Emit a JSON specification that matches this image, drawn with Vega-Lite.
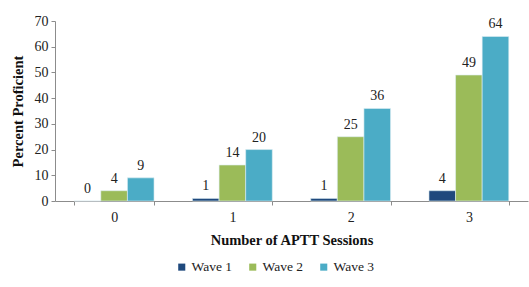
{
  "$schema": "https://vega.github.io/schema/vega-lite/v6.json",
  "width": 473,
  "height": 180,
  "autosize": {"type": "none"},
  "padding": {"left": 55, "top": 21, "right": 1, "bottom": 86},
  "background": "white",
  "config": {
    "view": {"stroke": null},
    "font": "Liberation Serif",
    "axis": {"labelFont": "Liberation Serif", "titleFont": "Liberation Serif", "labelColor": "#222", "titleColor": "#111", "domainColor": "#8c8c8c", "tickColor": "#8c8c8c", "grid": false, "labelFontSize": 14, "titleFontSize": 14.5, "titleFontWeight": "bold"},
    "legend": {"labelFont": "Liberation Serif", "labelFontSize": 13.5, "labelColor": "#222"}
  },
  "data": {
    "values": [
      {"sessions": "0", "wave": "Wave 1", "pct": 0},
      {"sessions": "0", "wave": "Wave 2", "pct": 4},
      {"sessions": "0", "wave": "Wave 3", "pct": 9},
      {"sessions": "1", "wave": "Wave 1", "pct": 1},
      {"sessions": "1", "wave": "Wave 2", "pct": 14},
      {"sessions": "1", "wave": "Wave 3", "pct": 20},
      {"sessions": "2", "wave": "Wave 1", "pct": 1},
      {"sessions": "2", "wave": "Wave 2", "pct": 25},
      {"sessions": "2", "wave": "Wave 3", "pct": 36},
      {"sessions": "3", "wave": "Wave 1", "pct": 4},
      {"sessions": "3", "wave": "Wave 2", "pct": 49},
      {"sessions": "3", "wave": "Wave 3", "pct": 64}
    ]
  },
  "encoding": {
    "x": {
      "field": "sessions", "type": "nominal",
      "scale": {"paddingInner": 0.325, "paddingOuter": 0.1625},
      "axis": {"title": "Number of APTT Sessions", "labelAngle": 0, "tickBand": "extent", "tickSize": 4, "labelPadding": 5, "titlePadding": 9}
    },
    "xOffset": {"field": "wave", "type": "nominal", "scale": {"paddingInner": 0, "paddingOuter": 0}},
    "y": {
      "field": "pct", "type": "quantitative",
      "scale": {"domain": [0, 70], "nice": false},
      "axis": {"title": "Percent Proficient", "values": [0, 10, 20, 30, 40, 50, 60, 70], "tickSize": 4, "labelPadding": 3, "titlePadding": 9}
    }
  },
  "layer": [
    {
      "mark": {"type": "bar", "stroke": "#dfeef3", "strokeWidth": 0.6},
      "encoding": {
        "color": {
          "field": "wave", "type": "nominal",
          "scale": {"domain": ["Wave 1", "Wave 2", "Wave 3"], "range": ["#1F497D", "#9BBB59", "#4BACC6"]},
          "legend": {"title": null, "orient": "none", "legendX": 120, "legendY": 239, "direction": "horizontal", "symbolType": "square", "symbolSize": 50, "symbolStrokeWidth": 0, "columnPadding": 13, "labelOffset": 3}
        }
      }
    },
    {
      "mark": {"type": "text", "baseline": "bottom", "dy": -5, "fontSize": 14, "color": "#222"},
      "encoding": {"text": {"field": "pct", "type": "quantitative", "format": ".0f"}}
    }
  ]
}
